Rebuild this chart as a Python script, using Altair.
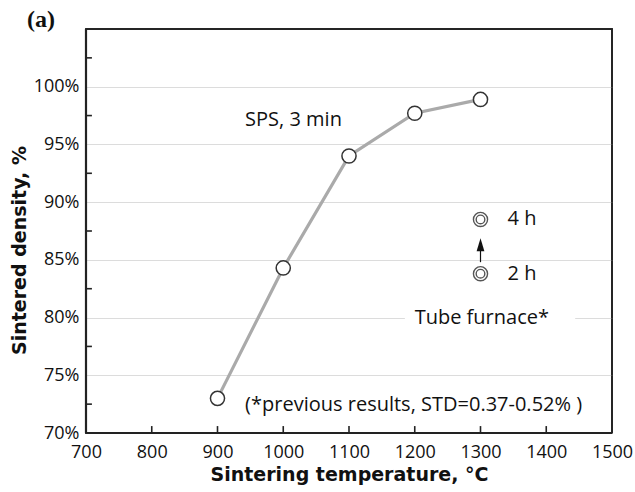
import altair as alt
import pandas as pd

# ---- data ----
temps = [900, 1000, 1100, 1200, 1300]
density = [73.0, 84.3, 94.0, 97.7, 98.9]

tube_temp = [1300, 1300]
tube_density = [83.8, 88.5]
tube_labels = ["2 h", "4 h"]

y_major = [70, 75, 80, 85, 90, 95, 100]
y_minor = [72.5, 77.5, 82.5, 87.5, 92.5, 97.5, 102.5]
x_ticks = [800, 900, 1000, 1100, 1200, 1300, 1400]
x_labels = [700, 800, 900, 1000, 1100, 1200, 1300, 1400, 1500]

W, H = 526, 404
FONT = "Open Sans"
TFONT = "DejaVu Sans"
XMIN, XMAX, YMIN, YMAX = 700, 1500, 70, 105

xs = alt.Scale(domain=[XMIN, XMAX], nice=False, zero=False)
ys = alt.Scale(domain=[YMIN, YMAX], nice=False, zero=False)

sps = pd.DataFrame({"t": temps, "d": density})
tube = pd.DataFrame({"t": tube_temp, "d": tube_density, "lab": tube_labels})

x_enc = alt.X("t:Q", scale=xs, axis=alt.Axis(
    title="Sintering temperature, °C", values=x_labels, format="d",
    ticks=False, grid=False, domain=False, labelFont=FONT, labelFontSize=18,
    labelColor="#111", labelPadding=10, labelFlush=False,
    titleFont=TFONT, titleFontSize=19, titleFontWeight="bold", titleColor="#111", titlePadding=4))
y_enc = alt.Y("d:Q", scale=ys, axis=alt.Axis(
    title="Sintered density, %", values=y_major, labelExpr="datum.value + '%'",
    ticks=False, grid=True, gridColor="#dcdcdc", gridWidth=1.2, domain=False,
    labelFont=FONT, labelFontSize=18, labelColor="#111", labelPadding=7,
    titleFont=TFONT, titleFontSize=19, titleFontWeight="bold", titleColor="#111",
    titlePadding=4, titleY=221))

base = alt.Chart(sps).mark_line(color="#aaaaaa", strokeWidth=3.2).encode(x=x_enc, y=y_enc)

# white box behind "Tube furnace*" breaking the gridline
box = alt.Chart(pd.DataFrame({"t": [1185], "t2": [1444], "d": [78.8], "d2": [81.2]})).mark_rect(
    color="white").encode(x=alt.X("t:Q", scale=xs), x2="t2:Q", y=alt.Y("d:Q", scale=ys), y2="d2:Q")

pts = alt.Chart(sps).mark_point(shape="circle", filled=True, fill="white", stroke="#333",
                                strokeWidth=1.5, size=200, opacity=1).encode(
    x=alt.X("t:Q", scale=xs), y=alt.Y("d:Q", scale=ys))

outer = alt.Chart(tube).mark_point(shape="circle", filled=True, fill="white", stroke="#555",
                                   strokeWidth=1.4, size=200, opacity=1).encode(
    x=alt.X("t:Q", scale=xs), y=alt.Y("d:Q", scale=ys))
inner = alt.Chart(tube).mark_point(shape="circle", filled=False, stroke="#555",
                                   strokeWidth=1.4, size=75, opacity=1).encode(
    x=alt.X("t:Q", scale=xs), y=alt.Y("d:Q", scale=ys))
tube_text = alt.Chart(tube).mark_text(align="left", baseline="middle", dx=27, font=FONT,
                                      fontSize=20, color="#111").encode(
    x=alt.X("t:Q", scale=xs), y=alt.Y("d:Q", scale=ys), text="lab:N")

# arrow from 2 h to 4 h
arrow_line = alt.Chart(pd.DataFrame({"t": [1300], "d": [84.8], "d2": [86.0]})).mark_rule(
    color="#111", strokeWidth=1.2).encode(x=alt.X("t:Q", scale=xs), y=alt.Y("d:Q", scale=ys), y2="d2:Q")
arrow_head = alt.Chart(pd.DataFrame({"t": [1300], "d": [86.3]})).mark_point(
    shape="M0,-1L0.6,1L-0.6,1Z", filled=True, color="#111", size=169, opacity=1).encode(
    x=alt.X("t:Q", scale=xs), y=alt.Y("d:Q", scale=ys))

# inward minor ticks (in data units)
ytick = alt.Chart(pd.DataFrame({"d": y_minor, "t": [XMIN] * 7, "t2": [709] * 7})).mark_rule(
    color="#222", strokeWidth=1.6).encode(
    x=alt.X("t:Q", scale=xs), x2="t2:Q", y=alt.Y("d:Q", scale=ys))
xtick = alt.Chart(pd.DataFrame({"t": x_ticks, "d": [YMIN] * 7, "d2": [70.6] * 7})).mark_rule(
    color="#222", strokeWidth=1.6).encode(
    x=alt.X("t:Q", scale=xs), y=alt.Y("d:Q", scale=ys), y2="d2:Q")

# frame (four edges in data coordinates)
frame_df = pd.DataFrame({
    "t": [XMIN, XMAX, XMIN, XMIN],
    "t2": [XMIN, XMAX, XMAX, XMAX],
    "d": [YMIN, YMIN, YMIN, YMAX],
    "d2": [YMAX, YMAX, YMIN, YMAX],
    "w": [2.2, 1.6, 2.2, 1.6],
})
frame = alt.Chart(frame_df).mark_rule(color="#222").encode(
    x=alt.X("t:Q", scale=xs), x2="t2:Q", y=alt.Y("d:Q", scale=ys), y2="d2:Q",
    strokeWidth=alt.StrokeWidth("w:Q", scale=None, legend=None))

notes = pd.DataFrame({
    "t": [942, 1302, 942],
    "d": [97.1, 80.0, 72.4],
    "txt": ["SPS, 3 min", "Tube furnace*", "(*previous results, STD=0.37-0.52% )"],
    "al": ["left", "center", "left"],
})
note_left = alt.Chart(notes[notes.al == "left"]).mark_text(
    align="left", baseline="middle", font=FONT, fontSize=20, color="#111").encode(
    x=alt.X("t:Q", scale=xs), y=alt.Y("d:Q", scale=ys), text="txt:N")
note_center = alt.Chart(notes[notes.al == "center"]).mark_text(
    align="center", baseline="middle", font=FONT, fontSize=20, color="#111").encode(
    x=alt.X("t:Q", scale=xs), y=alt.Y("d:Q", scale=ys), text="txt:N")

panel = alt.Chart(pd.DataFrame({"lab": ["(a)"]})).mark_text(
    align="left", baseline="middle", font="Liberation Serif", fontSize=24, fontWeight="bold",
    color="#111").encode(x=alt.value(-59), y=alt.value(-9), text="lab:N")

chart = alt.layer(base, box, pts, outer, inner, tube_text, arrow_line, arrow_head,
                  ytick, xtick, frame, note_left, note_center, panel).properties(
    width=W, height=H,
    autosize=alt.AutoSizeParams(type="none"),
    padding={"left": 86, "top": 29, "right": 23, "bottom": 59},
    background="white",
).configure_view(stroke="#333", strokeWidth=2)

chart.save("out.html", embed_options={"renderer": "svg", "actions": False})
